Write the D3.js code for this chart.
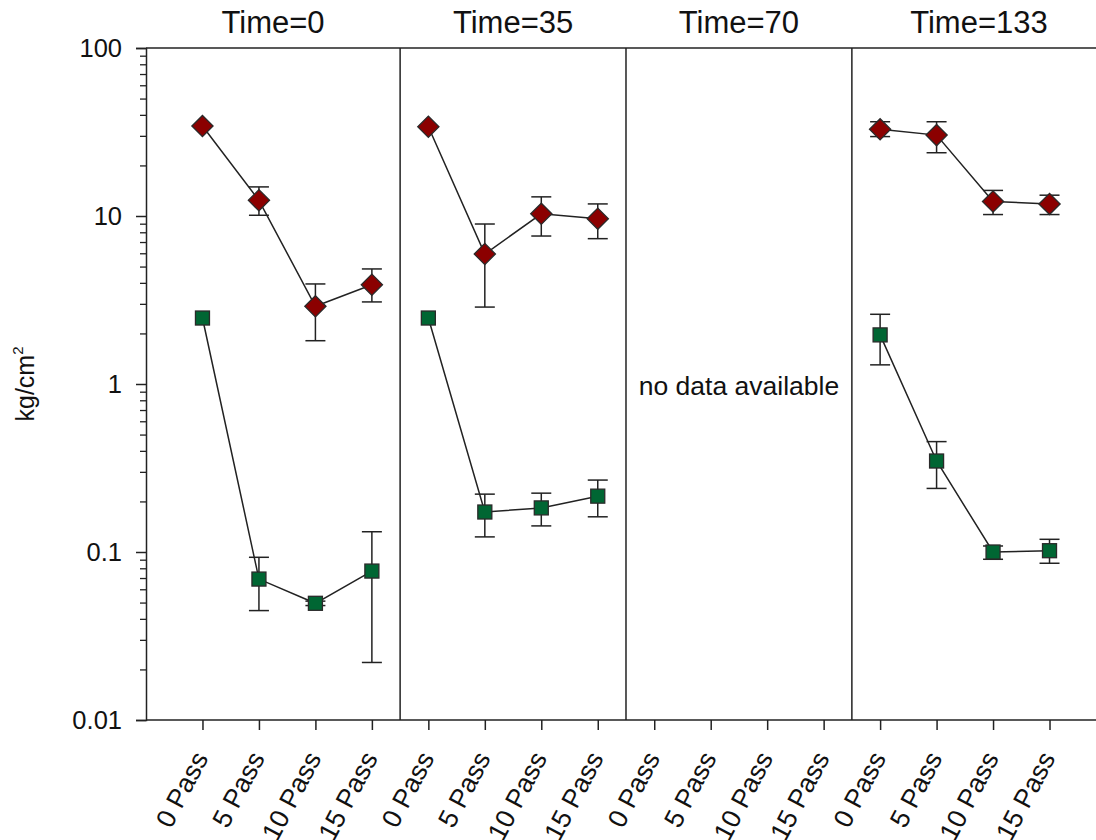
<!DOCTYPE html>
<html>
<head>
<meta charset="utf-8">
<script src="https://cdn.jsdelivr.net/npm/d3@7"></script>
<style>
  body { margin: 0; background: #fff; }
  svg { display: block; font-family: "Liberation Sans", Arial, sans-serif; }
</style>
</head>
<body>
<script>
// facets and categories
const times = ["Time=0", "Time=35", "Time=70", "Time=133"];
const passes = ["0 Pass", "5 Pass", "10 Pass", "15 Pass"];

// red diamonds (null = no data / no error bar)
const redMean = [[34.3, 12.4, 2.9, 3.9], [34.0, 5.94, 10.3, 9.64], [null, null, null, null], [32.8, 30.3, 12.2, 11.8]];
const redLow = [[null, 10.1, 1.81, 3.08], [null, 2.87, 7.6, 7.33], [null, null, null, null], [29.7, 23.8, 10.2, 10.2]];
const redHigh = [[null, 14.9, 3.94, 4.84], [null, 8.96, 13.0, 11.8], [null, null, null, null], [36.4, 36.4, 14.2, 13.3]];

// green squares
const greenMean = [[2.47, 0.069, 0.0495, 0.077], [2.47, 0.173, 0.183, 0.215], [null, null, null, null], [1.96, 0.348, 0.100, 0.1018]];
const greenLow = [[null, 0.0448, 0.048, 0.022], [null, 0.123, 0.143, 0.162], [null, null, null, null], [1.30, 0.239, 0.0905, 0.0857]];
const greenHigh = [[null, 0.093, 0.051, 0.132], [null, 0.221, 0.224, 0.268], [null, null, null, null], [2.60, 0.454, 0.1086, 0.119]];

const yTicks = [0.01, 0.1, 1, 10, 100];
const noDataText = "no data available";
const yLabel = "kg/cm";

const width = 1096, height = 840;
const mLeft = 146, mTop = 48, mBottom = 720;
const step = 56.47;

const svg = d3.select("body").append("svg")
    .attr("width", width)
    .attr("height", height);

const x = d3.scaleLinear().domain([0, 17]).range([mLeft, mLeft + 17 * step]);
const y = d3.scaleLog().domain([0.01, 100]).range([mBottom, mTop]);

const ink = "#222";
const fontFam = "Liberation Sans, Arial, sans-serif";

// minor y ticks
let minor = [];
yTicks.slice(0, -1).forEach(d => {
    for (let k = 2; k <= 9; k++) minor.push(d * k);
});
svg.append("g")
    .attr("transform", `translate(${mLeft},0)`)
    .call(d3.axisLeft(y).tickValues(minor).tickSize(6).tickFormat(""))
    .call(g => g.select(".domain").remove())
    .selectAll("line").attr("stroke", ink).attr("stroke-width", 1.3);

// major y axis
svg.append("g")
    .attr("transform", `translate(${mLeft},0)`)
    .call(d3.axisLeft(y).tickValues(yTicks).tickSize(10).tickPadding(14).tickFormat(d3.format("~g")))
    .call(g => g.select(".domain").attr("stroke", ink).attr("stroke-width", 1.5))
    .call(g => g.selectAll("line").attr("stroke", ink).attr("stroke-width", 1.5))
    .call(g => g.selectAll("text").attr("font-size", 25.5).attr("fill", "#111").attr("font-family", fontFam));

// x axis
const xPos = [];
times.forEach((t, i) => passes.forEach((p, j) => xPos.push(i * 4 + j + 1)));
const xAxis = svg.append("g")
    .attr("transform", `translate(0,${mBottom})`)
    .call(d3.axisBottom(x).tickValues(xPos).tickSize(10).tickFormat(d => passes[(d - 1) % 4]))
    .call(g => g.select(".domain").attr("d", `M${mLeft},0H${width}`).attr("stroke", ink).attr("stroke-width", 1.5))
    .call(g => g.selectAll("line").attr("stroke", ink).attr("stroke-width", 1.5));
xAxis.selectAll("text")
    .attr("font-size", 26.5)
    .attr("fill", "#111")
    .attr("font-family", fontFam)
    .attr("text-anchor", "end")
    .attr("y", 0)
    .attr("dy", 0)
    .attr("transform", "translate(6,38) rotate(-62)");

// top frame line
svg.append("line")
    .attr("x1", mLeft).attr("x2", width)
    .attr("y1", mTop).attr("y2", mTop)
    .attr("stroke", ink).attr("stroke-width", 1.5);

// facet separators
[1, 2, 3].forEach(i => {
    svg.append("line")
        .attr("x1", x(i * 4 + 0.5)).attr("x2", x(i * 4 + 0.5))
        .attr("y1", mTop).attr("y2", mBottom)
        .attr("stroke", ink).attr("stroke-width", 1.5);
});

// facet titles
times.forEach((t, i) => {
    const x0 = i === 0 ? 0 : i * 4 + 0.5;
    const x1 = i === 3 ? 17 : i * 4 + 4.5;
    svg.append("text")
        .attr("x", (x(x0) + x(x1)) / 2)
        .attr("y", 33)
        .attr("text-anchor", "middle")
        .attr("font-size", 31)
        .attr("fill", "#111")
        .text(t);
});

svg.append("text")
    .attr("x", (x(8.5) + x(12.5)) / 2)
    .attr("y", 395)
    .attr("text-anchor", "middle")
    .attr("font-size", 26.5)
    .attr("fill", "#111")
    .text(noDataText);

// y label
const yl = svg.append("text")
    .attr("transform", `translate(34,${(mTop + mBottom) / 2}) rotate(-90)`)
    .attr("text-anchor", "middle")
    .attr("font-size", 25)
    .attr("fill", "#111");
yl.append("tspan").text(yLabel);
yl.append("tspan").attr("font-size", 15).attr("dy", -11).text("2");

// series
function drawSeries(mean, low, high, color, shape) {
    const s = shape === "diamond" ? 15 : 14;
    mean.forEach((row, i) => {
        const pts = row.map((v, j) => ({ x: i * 4 + j + 1, v, lo: low[i][j], hi: high[i][j] }))
            .filter(d => d.v != null);
        if (!pts.length) return;
        const g = svg.append("g");
        g.append("path")
            .datum(pts)
            .attr("fill", "none")
            .attr("stroke", ink)
            .attr("stroke-width", 1.5)
            .attr("d", d3.line().x(d => x(d.x)).y(d => y(d.v)));
        const eb = g.selectAll(".eb").data(pts.filter(d => d.lo != null)).join("g");
        eb.append("line")
            .attr("x1", d => x(d.x)).attr("x2", d => x(d.x))
            .attr("y1", d => y(d.lo)).attr("y2", d => y(d.hi))
            .attr("stroke", ink).attr("stroke-width", 1.5);
        [d => d.lo, d => d.hi].forEach(f => {
            eb.append("line")
                .attr("x1", d => x(d.x) - 10).attr("x2", d => x(d.x) + 10)
                .attr("y1", d => y(f(d))).attr("y2", d => y(f(d)))
                .attr("stroke", ink).attr("stroke-width", 1.5);
        });
        g.selectAll(".mk").data(pts).join("rect")
            .attr("x", -s / 2).attr("y", -s / 2).attr("width", s).attr("height", s)
            .attr("transform", d => `translate(${x(d.x)},${y(d.v)})` + (shape === "diamond" ? " rotate(45)" : ""))
            .attr("fill", color)
            .attr("stroke", "#2a2a2a")
            .attr("stroke-width", 1.3);
    });
}

drawSeries(redMean, redLow, redHigh, "#8b0000", "diamond");
drawSeries(greenMean, greenLow, greenHigh, "#006633", "square");
</script>
</body>
</html>
